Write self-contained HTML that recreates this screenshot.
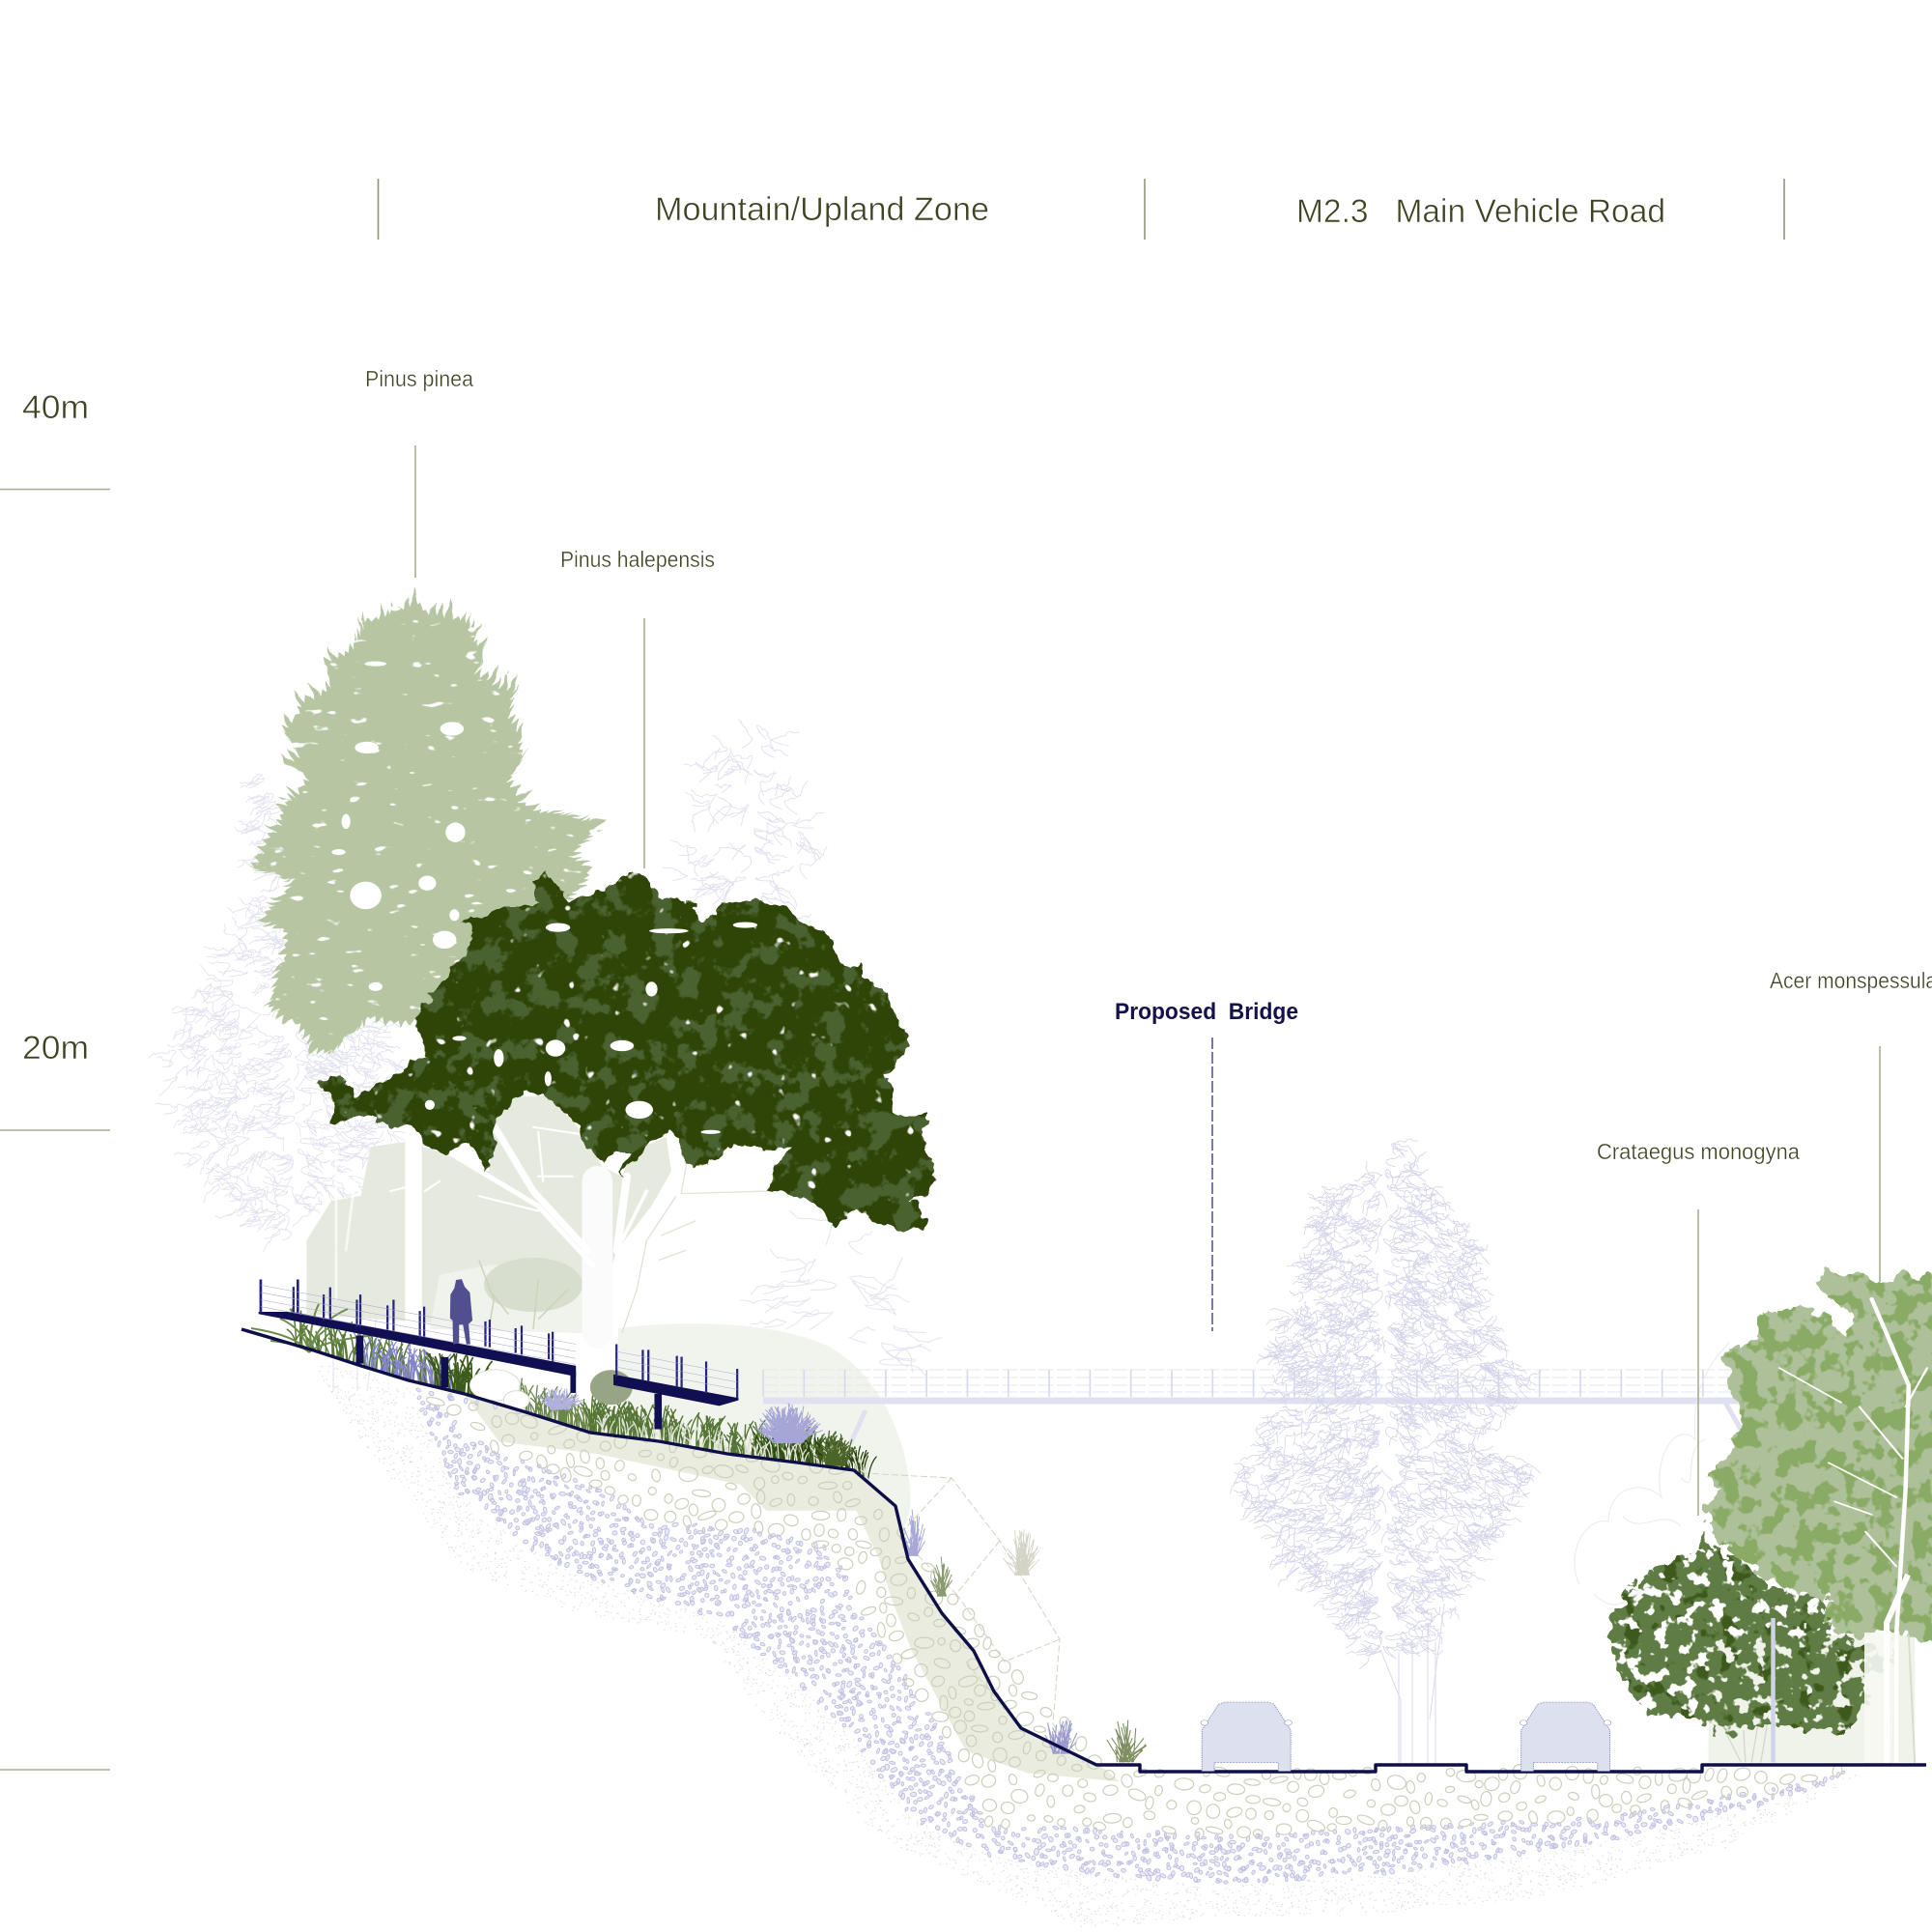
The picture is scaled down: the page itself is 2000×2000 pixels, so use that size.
<!DOCTYPE html>
<html><head><meta charset="utf-8"><title>Section</title>
<style>html,body{margin:0;padding:0;background:#fff}svg{display:block}text{font-family:"Liberation Sans",sans-serif}.th{stroke:#fff;stroke-width:.55px;paint-order:fill}.ts{stroke:#fff;stroke-width:.35px}</style>
</head><body>
<svg id="s" xmlns="http://www.w3.org/2000/svg" width="2000" height="2000" viewBox="0 0 2000 2000">
<defs>
<filter id="pine" x="-8%" y="-8%" width="116%" height="116%" color-interpolation-filters="sRGB">
<feTurbulence type="fractalNoise" baseFrequency="0.05" numOctaves="2" seed="3" result="n"/>
<feDisplacementMap in="SourceGraphic" in2="n" scale="10" xChannelSelector="R" yChannelSelector="G" result="d"/>
<feTurbulence type="fractalNoise" baseFrequency="0.05 0.12" numOctaves="2" seed="14" result="m"/>
<feColorMatrix in="m" type="matrix" values="0 0 0 0 0 0 0 0 0 0 0 0 0 0 0 16 0 0 0 -11.4" result="h"/>
<feComposite in="d" in2="h" operator="out"/>
</filter>
<filter id="oak" x="-8%" y="-8%" width="116%" height="116%" color-interpolation-filters="sRGB">
<feTurbulence type="fractalNoise" baseFrequency="0.05" numOctaves="3" seed="4" result="n"/>
<feDisplacementMap in="SourceGraphic" in2="n" scale="20" xChannelSelector="R" yChannelSelector="G" result="d"/>
<feTurbulence type="fractalNoise" baseFrequency="0.04" numOctaves="4" seed="9" result="m"/>
<feColorMatrix in="m" type="matrix" values="0 0 0 0 .29 0 0 0 0 .38 0 0 0 0 .19 14 0 0 0 -7.4" result="c"/>
<feComposite in="c" in2="d" operator="in" result="patch"/>
<feTurbulence type="fractalNoise" baseFrequency="0.06" numOctaves="2" seed="21" result="q"/>
<feColorMatrix in="q" type="matrix" values="0 0 0 0 0 0 0 0 0 0 0 0 0 0 0 16 0 0 0 -11.6" result="h"/>
<feMerge result="mm"><feMergeNode in="d"/><feMergeNode in="patch"/></feMerge>
<feComposite in="mm" in2="h" operator="out"/>
</filter>
<filter id="cra" x="-8%" y="-8%" width="116%" height="116%" color-interpolation-filters="sRGB">
<feTurbulence type="fractalNoise" baseFrequency="0.09" numOctaves="2" seed="7" result="n"/>
<feDisplacementMap in="SourceGraphic" in2="n" scale="24" xChannelSelector="R" yChannelSelector="G" result="d"/>
<feTurbulence type="fractalNoise" baseFrequency="0.05" numOctaves="3" seed="31" result="m"/>
<feColorMatrix in="m" type="matrix" values="0 0 0 0 .24 0 0 0 0 .35 0 0 0 0 .11 14 0 0 0 -8.4" result="c"/>
<feComposite in="c" in2="d" operator="in" result="patch"/>
<feTurbulence type="fractalNoise" baseFrequency="0.07" numOctaves="3" seed="12" result="q"/>
<feColorMatrix in="q" type="matrix" values="0 0 0 0 0 0 0 0 0 0 0 0 0 0 0 18 0 0 0 -10.4" result="h"/>
<feMerge result="mm"><feMergeNode in="d"/><feMergeNode in="patch"/></feMerge>
<feComposite in="mm" in2="h" operator="out"/>
</filter>
<filter id="acer" x="-8%" y="-8%" width="116%" height="116%" color-interpolation-filters="sRGB">
<feTurbulence type="fractalNoise" baseFrequency="0.06" numOctaves="3" seed="5" result="n"/>
<feDisplacementMap in="SourceGraphic" in2="n" scale="24" xChannelSelector="R" yChannelSelector="G" result="d"/>
<feTurbulence type="fractalNoise" baseFrequency="0.05" numOctaves="3" seed="17" result="m"/>
<feColorMatrix in="m" type="matrix" values="0 0 0 0 .54 0 0 0 0 .67 0 0 0 0 .40 16 0 0 0 -8" result="c"/>
<feComposite in="c" in2="d" operator="in" result="patch"/>
<feMerge><feMergeNode in="d"/><feMergeNode in="patch"/></feMerge>
</filter>
</defs>

<g id="bgTrees"></g>

<!-- pale halos -->
<path d="M640 1375 C720 1365 810 1370 860 1395 C920 1430 945 1510 942 1560 C935 1610 900 1600 880 1530 L640 1480Z" fill="#f1f4ed"/>

<!-- pale understory crown (zoom-1 coords) -->
<g transform="translate(200,580) scale(.5102)">
<path d="M360 1190L430 1180 500 1200 600 1240 610 1130 650 1090 720 1085 780 1150 830 1230 870 1250 890 1200 960 1170 970 1240 930 1310 860 1400 840 1460 810 1400 795 1500 785 1568 230 1530 230 1380 280 1300 340 1290Z" fill="#e6eade"/>
<path d="M480 1560L500 1450 600 1430 740 1430 795 1480 790 1568Z" fill="#f0f3eb"/>
<ellipse cx="690" cy="1470" rx="100" ry="55" fill="#d8decd"/>
<g fill="none" stroke="#fff" stroke-linecap="round">
<path d="M820 1568L820 1260" stroke-width="62" stroke="#fbfbfb"/>
<path d="M600 1130L690 1280 800 1400" stroke-width="14"/>
<path d="M500 1190L700 1310 810 1430" stroke-width="10"/>
<path d="M690 1150L790 1165M700 1160L710 1260M700 1250L770 1250M580 1290L700 1320M400 1280L440 1270M470 1280L500 1260" stroke-width="4"/>
<path d="M880 1250L860 1400" stroke-width="16"/>
<path d="M920 1280L870 1380" stroke-width="7"/>
<path d="M447 930L447 1560" stroke-width="34"/>
<path d="M330 1240L310 1400M290 1200L290 1500" stroke-width="5" opacity=".7"/>
</g>
<g fill="none" stroke="#ccd3bc" stroke-width="3">
<path d="M600 1480L640 1530M580 1420L610 1500 600 1560M700 1460L690 1560M760 1480L700 1540"/>
</g>
<g fill="none" stroke="#dfe2d6" stroke-width="2.5">
<path d="M990 1170L1000 1230 990 1285 1165 1280M980 1290L920 1380 900 1480 870 1568"/>
<path d="M950 1370L1020 1340M945 1420L1000 1400"/>
</g>
</g>

<!-- Pinus pinea -->
<g filter="url(#pine)"><g transform="translate(200,580) scale(.5102)">
<path id="pinePath" fill="#b7c6a2" d="M455 85L480 110 555 130 590 190 570 235 645 270 640 320 655 350 665 400 635 450 660 490 700 515 800 530 808 550 760 600 800 630 770 670 700 720 600 800 520 870 460 930 340 930 290 990 250 990 215 940 155 900 175 850 190 800 190 760 150 720 210 650 125 620 180 540 190 500 240 450 190 410 215 400 185 350 230 290 285 260 265 215 330 180 350 130 400 110Z"/>
</g></g>
<g transform="translate(200,580) scale(.5102)" fill="#fff">
<ellipse cx="525" cy="342" rx="24" ry="14"/><ellipse cx="352" cy="380" rx="24" ry="12"/><ellipse cx="532" cy="552" rx="20" ry="20"/><ellipse cx="350" cy="680" rx="32" ry="28"/><ellipse cx="475" cy="655" rx="18" ry="15"/><ellipse cx="510" cy="770" rx="24" ry="18"/><ellipse cx="370" cy="210" rx="22" ry="5"/><ellipse cx="310" cy="530" rx="9" ry="15"/><ellipse cx="370" cy="865" rx="14" ry="9"/><ellipse cx="295" cy="592" rx="14" ry="6"/><ellipse cx="530" cy="720" rx="10" ry="12"/>
</g>

<!-- Oak -->
<g filter="url(#oak)"><g transform="translate(200,580) scale(.5102)">
<path fill="#2f4507" d="M680 650L715 635 740 660 760 690 850 660 885 635 915 640 945 680 1000 690 1040 725 1070 700 1140 690 1200 705 1280 760 1310 790 1330 830 1360 820 1365 850 1410 870 1415 900 1455 985 1420 1030 1395 1040 1420 1070 1435 1130 1490 1130 1480 1180 1503 1220 1495 1290 1455 1300 1485 1330 1475 1362 1400 1345 1345 1320 1295 1345 1240 1295 1165 1280 1195 1215 1220 1190 1160 1190 1075 1190 1060 1215 1000 1225 990 1170 970 1155 925 1185 875 1255 890 1200 850 1190 830 1225 780 1150 720 1085 650 1090 610 1130 600 1245 565 1185 500 1200 430 1150 350 1130 280 1140 285 1090 255 1060 300 1045 330 1085 370 1070 410 1045 470 1000 450 920 490 870 530 820 570 780 550 730 640 700 700 700Z"/>
</g></g>
<g transform="translate(200,580) scale(.5102)" fill="#fff">
<ellipse cx="740" cy="745" rx="25" ry="9"/><ellipse cx="965" cy="752" rx="40" ry="5"/><ellipse cx="1120" cy="740" rx="25" ry="6"/><ellipse cx="735" cy="990" rx="20" ry="17"/><ellipse cx="870" cy="985" rx="24" ry="11"/><ellipse cx="930" cy="870" rx="12" ry="15"/><ellipse cx="620" cy="1010" rx="10" ry="18"/><ellipse cx="720" cy="1052" rx="7" ry="15"/><ellipse cx="905" cy="1115" rx="28" ry="18"/><ellipse cx="540" cy="970" rx="14" ry="5"/><ellipse cx="480" cy="1105" rx="10" ry="10"/><ellipse cx="1050" cy="1160" rx="20" ry="4"/>
</g>

<!-- Bridge, pale continuation -->
<g fill="none">
<path d="M790 1450H1815" stroke-width="7" stroke="#dfe1f1"/>
<path d="M790 1418H1810M790 1426H1810M790 1434H1810M790 1441H1810" stroke-width="1" stroke-dasharray="16 3" stroke="#e4e5f3"/>
<path d="M896 1460L880 1495M1785 1450L1808 1490" stroke-width="5" stroke="#dfe1f1"/>
<g id="palePosts" stroke-width="1.6" stroke="#d6d8ec"></g>
</g>

<!-- centre trunk -->
<g fill="none" stroke="#dddded" stroke-width="1.1">
<path d="M1448 1710V1825M1462 1700V1825M1478 1680V1825M1486 1700V1825M1430 1710L1450 1760V1825M1495 1660L1480 1780"/>
</g>
<g id="cenTree"></g>

<!-- soil -->
<g id="soil"></g>

<path fill="none" stroke="#d2d3c4" stroke-width="1" stroke-dasharray="7 3" d="M893 1525L985 1530 1035 1595 1097 1697 1090 1785 1122 1825M985 1530L930 1590 990 1650 1035 1595M990 1650L1040 1720 1097 1697M1000 1720L1040 1770"/>

<!-- planting -->
<g id="plants"></g>

<!-- dark bridge (zoom-2 coords) -->
<g transform="translate(240,1300) scale(.4464)">
<g fill="#0f0f52">
<path d="M62 130L140 130 798 255 798 280 130 148 62 135Z"/>
<path d="M288 185H305V250H288Z"/><path d="M485 235H502V305H485Z"/><path d="M785 270H798V318H785Z"/>
<path d="M885 275L1175 330V335L1130 348 885 300Z"/><path d="M980 320H997V402H980Z"/>
</g>
<g stroke="#25257f" stroke-width="5" fill="none">
<path d="M67 55V132M153 55V132" stroke-width="6"/>
<path d="M143 72V130M213 90V150M228 73V150M290 102V165M298 90V165M361 115V172M375 102V175M436 128V190M446 118V190M588 152V210M598 148V212M658 168V225M672 162V230M735 180V240M744 176V245M892 205V280M953 218V290M966 218V292M1032 232V305M1043 234V305M1100 245V318M1172 262V330"/>
</g>
<g stroke="#a9a9cf" stroke-width="1.2" fill="none">
<path d="M67 68L798 205M67 85L798 222M67 102L798 238M67 118L798 252M892 222L1172 275M892 240L1172 293M892 258L1172 310"/>
</g>
<path fill="#504f90" d="M516 75L520 56 533 54 540 72 552 85 558 150 549 158 553 205 544 205 536 160 527 160 527 203 513 205 512 150 506 145 507 90Z"/>
</g>

<!-- pale rect behind right trees -->
<g transform="translate(1000,1300) scale(.6378,.4464)">
<path d="M1205 1175L1205 880 1540 880 1540 1175Z" fill="#f0f3ea"/>
<g fill="none" stroke="#d4d4cc" stroke-width="2"><path d="M1235 1110L1258 1175M1262 1100L1265 1175M1285 1090L1275 1175M1300 1090L1290 1175"/></g>
</g>

<!-- faint right tree -->
<g fill="none" stroke="#ececec" stroke-width="1.1">
<path d="M1635 1640C1620 1610 1640 1570 1665 1575 1665 1540 1700 1530 1720 1550 1710 1510 1735 1470 1755 1490 1750 1440 1770 1410 1790 1390M1650 1650C1680 1680 1690 1640 1720 1640M1680 1570C1700 1590 1720 1560 1740 1580M1740 1530C1760 1550 1740 1500 1765 1490"/>
</g>

<!-- Crataegus -->
<g filter="url(#cra)"><g transform="translate(1000,1300) scale(.6378,.4464)">
<path fill="#5f7c44" d="M1190 640L1230 690 1270 720 1300 770 1390 780 1400 880 1510 930 1450 990 1470 1020 1430 1105 1300 1085 1220 1120 1190 1075 1105 1055 1060 970 1043 850 1075 780 1130 710 1190 690Z"/>
</g></g>
<g transform="translate(1000,1300) scale(.6378,.4464)">
<path d="M1310 840V1175" stroke="#cfd3e8" stroke-width="7"/>
</g>

<!-- Acer -->
<g filter="url(#acer)"><g transform="translate(1000,1300) scale(.6378,.4464)">
<path fill="#aec099" d="M1370 55L1415 40 1480 65 1515 40 1590 50 1590 900 1530 880 1510 880 1420 875 1390 840 1400 790 1330 770 1270 720 1205 640 1200 590 1230 545 1210 510 1240 440 1260 390 1250 340 1240 300 1232 240 1285 190 1290 135 1360 120 1420 165 1430 195 1445 150 1400 90Z"/>
</g></g>
<g transform="translate(1000,1300) scale(.6378,.4464)" fill="none" stroke="#fff" stroke-linecap="round">
<path d="M1510 1175V880L1525 540 1530 300 1470 100" stroke-width="7"/>
<path d="M1540 1175L1530 880" stroke-width="3" stroke="#d8dccb"/>
<path d="M1510 560L1400 480M1520 470L1450 350M1525 350L1560 260M1320 260L1420 340M1510 720L1460 640M1470 600L1410 570" stroke-width="3.5"/>
</g>
<path d="M1930 1830V1690H1962L1958 1830Z" fill="#f6f8f2" opacity=".9"/>
<path d="M1953 1830V1680L1975 1630" fill="none" stroke="#fff" stroke-width="6"/>

<!-- ground line -->
<path fill="none" stroke="#0e0e48" stroke-width="3.4" stroke-linejoin="round" d="M250 1376L325 1398 374 1414 423 1429 481 1443 548 1463 611 1483 682 1492 753 1505 825 1514 884 1522 927 1559 940 1614 975 1670 1008 1709 1029 1751 1057 1789 1135 1827H1180V1834H1424V1827H1518V1834H1762V1827H1994"/>

<!-- cars (zoom-3 coords) -->
<g transform="translate(1000,1300) scale(.6378,.4464)">
<g id="car"><path d="M383 1195V1100L410 1040 420 1035H490L500 1040 527 1100V1195H507V1175H403V1195Z" fill="#dde0ee" stroke="#8a8dc0" stroke-width="1.5" stroke-dasharray="3 2"/><circle cx="387" cy="1083" r="6" fill="#fff" stroke="#8a8dc0"/><circle cx="523" cy="1083" r="6" fill="#fff" stroke="#8a8dc0"/></g>
<g transform="translate(518,0)"><path d="M383 1195V1100L410 1040 420 1035H490L500 1040 527 1100V1195H507V1175H403V1195Z" fill="#dde0ee" stroke="#8a8dc0" stroke-width="1.5" stroke-dasharray="3 2"/><circle cx="387" cy="1083" r="6" fill="#fff" stroke="#8a8dc0"/><circle cx="523" cy="1083" r="6" fill="#fff" stroke="#8a8dc0"/></g>
</g>

<!-- lines -->
<g stroke="#a8ae90" fill="none" stroke-width="1.6">
<path d="M0 506.5H114M0 1170H114M0 1832H114"/>
<path d="M430 461V598M667 640V899M1758 1252V1569M1946 1083V1327"/>
<path d="M391.5 185V248M1185 185V248M1847 185V248" stroke="#8f9678"/>
</g>
<path d="M1255 1074V1378" stroke="#6a6ab0" stroke-width="1.8" stroke-dasharray="12 3" fill="none"/>

<!-- labels -->
<g fill="#3d4422">
<text class="th" x="678" y="228" font-size="34" textLength="346" lengthAdjust="spacingAndGlyphs">Mountain/Upland Zone</text>
<text class="th" x="1342" y="230" font-size="34" textLength="382" lengthAdjust="spacingAndGlyphs" xml:space="preserve">M2.3   Main Vehicle Road</text>
<text class="th" x="23" y="433" font-size="34" textLength="69" lengthAdjust="spacingAndGlyphs">40m</text>
<text class="th" x="23" y="1096" font-size="34" textLength="69" lengthAdjust="spacingAndGlyphs">20m</text>
<text class="ts" x="378" y="400" font-size="23" textLength="112" lengthAdjust="spacingAndGlyphs">Pinus pinea</text>
<text class="ts" x="580" y="587" font-size="23" textLength="160" lengthAdjust="spacingAndGlyphs">Pinus halepensis</text>
<text class="ts" x="1832" y="1023" font-size="23" textLength="214" lengthAdjust="spacingAndGlyphs">Acer monspessulanum</text>
<text class="ts" x="1653" y="1200" font-size="23" textLength="210" lengthAdjust="spacingAndGlyphs">Crataegus monogyna</text>
</g>
<text x="1154" y="1055" font-size="24" font-weight="700" fill="#14124a" textLength="190" lengthAdjust="spacingAndGlyphs" xml:space="preserve">Proposed  Bridge</text>
</svg>
<script>
(function(){
var NS="http://www.w3.org/2000/svg",seed=12345;
function R(){seed=(seed*1664525+1013904223)>>>0;return seed/4294967296}
function rr(a,b){return a+(b-a)*R()}
function ov(a){var o=[];for(var i=0;i<a.length;i+=2)o.push([a[i]*1.2755,a[i+1]*1.2755]);return o}
function inP(x,y,p){var c=false;for(var i=0,j=p.length-1;i<p.length;j=i++){if((p[i][1]>y)!=(p[j][1]>y)&&x<(p[j][0]-p[i][0])*(y-p[i][1])/(p[j][1]-p[i][1])+p[i][0])c=!c}return c}
function bb(p){var a=1e9,b=1e9,c=-1e9,d=-1e9;p.forEach(function(q){a=Math.min(a,q[0]);b=Math.min(b,q[1]);c=Math.max(c,q[0]);d=Math.max(d,q[1])});return[a,b,c,d]}
function add(par,tag,at){var e=document.createElementNS(NS,tag);for(var k in at)e.setAttribute(k,at[k]);par.appendChild(e);return e}
function f(n){return n.toFixed(1)}
function el(x,y,rx,ry,t){var c=Math.cos(t)*rx,s=Math.sin(t)*rx,d=t*57.3;return "M"+f(x-c)+" "+f(y-s)+"a"+f(rx)+" "+f(ry)+" "+f(d)+" 1 0 "+f(2*c)+" "+f(2*s)+"a"+f(rx)+" "+f(ry)+" "+f(d)+" 1 0 "+f(-2*c)+" "+f(-2*s)+"Z"}
function scrib(par,poly,n,col,sz,w){var b=bb(poly),d="",i=0,g=0;while(i<n&&g<n*30){g++;var x=rr(b[0],b[2]),y=rr(b[1],b[3]);if(!inP(x,y,poly))continue;i++;
 var t=rr(-.6,.6)+(x<(b[0]+b[2])/2?Math.PI:0),L=rr(sz*.6,sz*1.3),px=x,py=y;d+="M"+f(x)+" "+f(y);
 for(var k=0;k<4;k++){var nx=px+Math.cos(t)*L*.4,ny=py+Math.sin(t)*L*.4+rr(-2,3);d+="Q"+f(px+rr(-3,3))+" "+f(py+rr(-4,4))+" "+f(nx)+" "+f(ny);px=nx;py=ny;t+=rr(-.7,.7)}
 d+="M"+f(x)+" "+f(y)+"q"+f(rr(-6,6))+" "+f(rr(3,7))+" "+f(Math.cos(t)*L)+" "+f(Math.abs(Math.sin(t))*L*.7+3);}
 add(par,"path",{d:d,fill:"none",stroke:col,"stroke-width":w||.8})}

/* spiky pine outline */
(function(){var el0=document.getElementById("pinePath"),nums=el0.getAttribute("d").match(/[\d.]+/g).map(Number),pts=[];for(var i=0;i<nums.length;i+=2)pts.push([nums[i],nums[i+1]]);
 var c=[440,540],d="";for(i=0;i<pts.length;i++){var a=pts[i],b=pts[(i+1)%pts.length],L=Math.hypot(b[0]-a[0],b[1]-a[1]),n=Math.max(1,Math.round(L/15));
  for(var k=0;k<n;k++){var t=k/n,x=a[0]+(b[0]-a[0])*t,y=a[1]+(b[1]-a[1])*t;d+=(d?"L":"M")+f(x)+" "+f(y);
   var t2=(k+.5)/n,mx=a[0]+(b[0]-a[0])*t2,my=a[1]+(b[1]-a[1])*t2,ang=Math.atan2(my-c[1],mx-c[0]),sp=rr(6,34);
   d+="L"+f(mx+Math.cos(ang)*sp)+" "+f(my+Math.sin(ang)*sp-sp*.35);}}
 el0.setAttribute("d",d+"Z");})();

/* background line trees */
var bg=document.getElementById("bgTrees");
scrib(bg,[[270,800],[305,850],[290,950],[400,1080],[440,1180],[400,1290],[300,1290],[230,1240],[190,1180],[172,1110],[190,1060],[230,1000],[265,920]],480,"#e0e0ee",15,.8);
var z1=function(a){return a.map(function(q){return[200+q[0]*.5102,580+q[1]*.5102]})};
scrib(bg,z1([[1130,290],[1180,370],[1200,430],[1240,520],[1265,650],[1280,760],[1040,680],[990,640],[1050,520],[1030,440],[1080,350]]),70,"#e0e0f0",18,.9);
scrib(bg,[[810,1290],[860,1255],[925,1340],[930,1410],[810,1420]],26,"#e4e4ef",26,1);
add(bg,"path",{d:"M345 1300V1440M370 1290V1440M400 1280L380 1440",fill:"none",stroke:"#e7e7ef","stroke-width":1.2});

/* centre tree */
scrib(document.getElementById("cenTree"),ov([1130,925,1165,960,1195,1010,1200,1060,1240,1130,1190,1170,1240,1190,1200,1260,1170,1320,1150,1340,1110,1340,1060,1280,1005,1200,1040,1140,1030,1100,1060,1040,1075,970,1115,950]),1150,"#d4d4ea",14,.8);

/* pale posts */
var pp=document.getElementById("palePosts"),d0="";for(var x=790;x<1810;x+=42.3)d0+="M"+f(x)+" 1418V1446";add(pp,"path",{d:d0});

/* soil */
var soil=document.getElementById("soil");
var G=[196,1079,255,1096,293,1109,332,1122,377,1131,430,1147,479,1163,535,1170,590,1180,647,1187,693,1192,727,1222,737,1265,764,1309,791,1341,807,1373,829,1401,890,1432];
var outer=ov([251,1105,293,1170,377,1275,468,1309,573,1330,625,1400,713,1492,800,1530,880,1565,1000,1555,1100,1555,1250,1540,1400,1500,1515,1437,1400,1437,900,1437,690,1195,440,1150]);
var lav=ov([332,1124,370,1210,451,1271,590,1317,689,1404,737,1474,800,1505,890,1522,1000,1528,1130,1520,1300,1495,1430,1465,1512,1437,1400,1437,900,1437,690,1195,440,1150]);
var sto=ov([340,1130,395,1173,485,1208,531,1236,608,1240,678,1257,695,1306,724,1345,760,1400,800,1480,1000,1490,1300,1475,1450,1450,1500,1437,1400,1437,900,1437,690,1195,440,1150]);
var band=ov([374,1128,430,1147,479,1163,535,1170,590,1180,647,1187,693,1192,727,1222,737,1265,764,1309,791,1341,807,1373,829,1401,892,1432,909,1446,834,1439,784,1421,740,1340,724,1299,713,1264,695,1226,622,1226,601,1205,485,1180,405,1170]);
var b=bb(outer),dots="",i;
for(i=0;i<32000;i++){var x=rr(b[0],b[2]),y=rr(b[1],b[3]);if(inP(x,y,outer)&&!inP(x,y,lav)){dots+="M"+f(x)+" "+f(y)+"h1.3"}}
add(soil,"path",{d:dots,stroke:"#dcdcd6","stroke-width":1.1,fill:"none"});
add(soil,"polygon",{points:band.map(function(q){return q.join(",")}).join(" "),fill:"#e9ecdf"});
var l="",lp=[];b=bb(lav);
for(i=0;i<30000;i++){var x=rr(b[0],b[2]),y=rr(b[1],b[3]);if(inP(x,y,lav)&&!inP(x,y,sto)){var ok=true;for(var j=lp.length-1;j>=0&&j>lp.length-500;j--){var dx=lp[j][0]-x,dy=lp[j][1]-y;if(dx*dx+dy*dy<42){ok=false;break}}if(ok){lp.push([x,y]);l+=el(x,y,rr(1.8,3.4),rr(1,2),rr(0,3.14))}}}
add(soil,"path",{d:l,fill:"#eaeaf6",stroke:"#bfbfe2","stroke-width":.95});
var st="",pts=[];b=bb(sto);
for(i=0;i<26000;i++){var x=rr(b[0],b[2]),y=rr(b[1],b[3]);if(!inP(x,y,sto))continue;var ok=true,rx=rr(3.5,10);for(var j=pts.length-1;j>=0;j--){var dx=pts[j][0]-x,dy=pts[j][1]-y;if(dx*dx+dy*dy<(rx+9)*(rx+9)){ok=false;break}}if(!ok)continue;pts.push([x,y]);st+=el(x,y,rx,rr(3,7),rr(-.4,.4))}
add(soil,"path",{d:st,fill:"none",stroke:"#cdcfbc","stroke-width":1.2});

/* planting */
var pl=document.getElementById("plants");
var gp=[[250,1376],[325,1398],[374,1414],[423,1429],[481,1443],[548,1463],[611,1483],[682,1492],[753,1505],[825,1514],[884,1522],[905,1540]];
function gy(x){for(var i=0;i<gp.length-1;i++){if(x>=gp[i][0]&&x<=gp[i+1][0]){return gp[i][1]+(gp[i+1][1]-gp[i][1])*(x-gp[i][0])/(gp[i+1][0]-gp[i][0])}}return 1500}
var z2=function(x,y){return[240+x*.4464,1300+y*.4464]};
function blades(x0,x1,n,col,h,w){var d="";for(var i=0;i<n;i++){var x=rr(x0,x1),y=gy(x),hh=rr(h*.4,h),lean=rr(-h*.35,h*.35);d+="M"+f(x)+" "+f(y)+"q"+f(lean*.2)+" "+f(-hh*.7)+" "+f(lean)+" "+f(-hh)}add(pl,"path",{d:d,fill:"none",stroke:col,"stroke-width":w,"stroke-linecap":"round"})}
blades(300,480,90,"#5a7a3a",38,1.5);
blades(370,470,70,"#8585cc",38,1.2);
blades(450,500,40,"#3c5a1c",40,1.7);
blades(530,660,110,"#6a8648",34,1.3);
blades(610,860,230,"#557535",38,1.4);
blades(780,900,90,"#2d4510",30,1.3);
blades(620,900,90,"#dfe4d6",24,1.3);
(function(){var d="",x=300,y=1392;[[-60,-25],[-40,-12],[-20,-45],[10,-50],[40,-45],[70,-18],[-30,-35],[30,-30]].forEach(function(q){d+="M"+(x+20)+" "+(y+8)+"q"+(q[0]*.2)+" "+(q[1]*.7)+" "+q[0]+" "+q[1]});add(pl,"path",{d:d,fill:"none",stroke:"#6d8c4a","stroke-width":2})})();
[[610,300,58,36],[660,335,30,22]].forEach(function(a){var p=z2(a[0],a[1]);add(pl,"ellipse",{cx:p[0],cy:p[1],rx:a[2]*.4464,ry:a[3]*.4464,fill:"#fff",stroke:"#cfd3c4","stroke-width":.8})});
var p=z2(880,305);add(pl,"ellipse",{cx:p[0],cy:p[1],rx:22,ry:18,fill:"#97a585"});
function bush(cx,cy,rx,ry,n,col,w){var d="";for(var i=0;i<n;i++){var a=rr(Math.PI,2*Math.PI),r=Math.sqrt(R());d+="M"+f(cx+rr(-rx*.4,rx*.4))+" "+f(cy+ry*.8)+"L"+f(cx+Math.cos(a)*rx*r)+" "+f(cy+Math.sin(a)*ry*1.4*r+ry*.3)}add(pl,"path",{d:d,fill:"none",stroke:col,"stroke-width":w})}
p=z2(1290,395);bush(p[0],p[1],36,22,200,"#a6a6d6",1);
p=z2(760,335);bush(p[0],p[1],26,12,70,"#b0b0de",1);
p=z2(1400,455);bush(p[0],p[1],26,18,60,"#4b6428",1.2);
bush(945,1590,14,26,35,"#a8a8d8",1);
bush(975,1635,12,22,30,"#8a9a70",1);
bush(1058,1610,20,26,55,"#d4d4c6",.9);
bush(1098,1798,20,22,30,"#9a9ad0",1.1);
bush(1165,1805,22,24,32,"#7d8f60",1.1);
})();
</script>
</body></html>
